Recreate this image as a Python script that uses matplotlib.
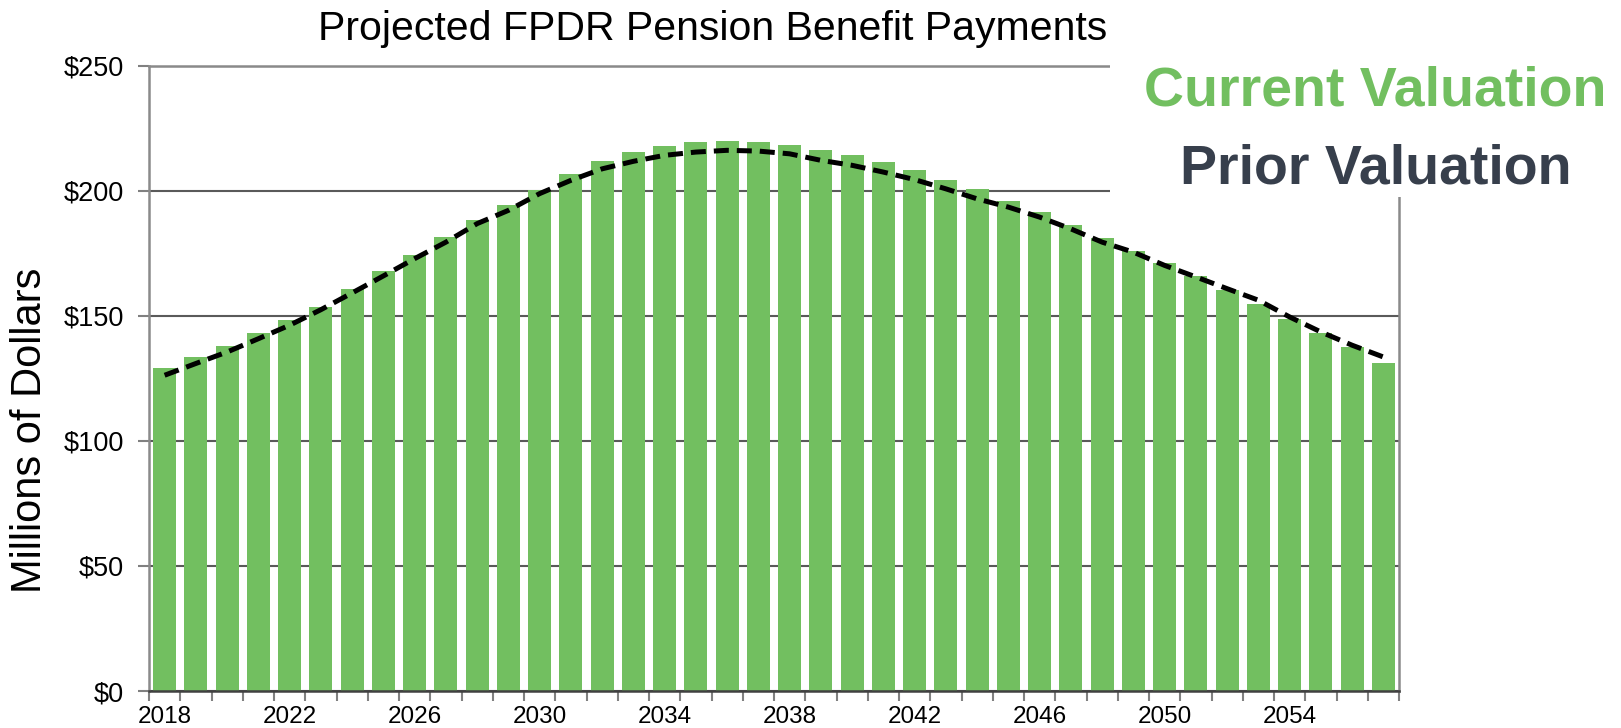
import matplotlib
matplotlib.use("Agg")
import matplotlib.pyplot as plt
from matplotlib.patches import Rectangle
from matplotlib.ticker import FuncFormatter
import numpy as np

plt.rcParams['font.family'] = ['Liberation Sans', 'DejaVu Sans']

# data (millions of dollars)
years = list(range(2018, 2058))
current = [128.9, 133.5, 138.0, 143.2, 148.3, 153.5, 160.7, 167.7, 174.4, 181.6,
           188.2, 194.4, 200.4, 206.6, 211.7, 215.3, 217.8, 219.4, 219.9, 219.4,
           218.4, 216.3, 214.3, 211.3, 208.2, 204.1, 200.5, 195.9, 191.3, 186.1,
           181.2, 176.0, 170.9, 165.9, 160.1, 154.5, 148.6, 142.9, 137.3, 131.0]
prior = [126.2, 130.9, 135.5, 140.8, 146.2, 152.4, 159.1, 165.9, 172.8, 179.4,
         186.8, 192.1, 198.8, 204.1, 208.7, 211.7, 214.1, 215.4, 216.1, 215.8,
         214.7, 212.1, 210.1, 207.4, 204.4, 200.7, 196.7, 193.4, 189.4, 184.7,
         179.4, 175.4, 170.1, 165.5, 160.8, 156.2, 149.5, 143.5, 138.2, 133.5]
y_ticks = [0, 50, 100, 150, 200, 250]
label_years = list(range(2018, 2058, 4))

green = '#72BF60'
slate = '#373F4C'

fig = plt.figure(figsize=(16.21, 7.28), dpi=100)
ax = fig.add_axes([149 / 1621, 1 - 691 / 728, 1250 / 1621, 625.5 / 728])

ax.bar(years, current, width=0.73, color=green, zorder=2)
ax.plot(years, prior, color='black', lw=3.6, ls=(0, (3.0, 1.6)), zorder=3)

ax.set_xlim(years[0] - 0.5, years[-1] + 0.5)
ax.set_ylim(0, 250)

ax.set_yticks(y_ticks)
ax.yaxis.set_major_formatter(FuncFormatter(lambda v, p: f'${v:.0f}'))
ax.yaxis.grid(True, color='#5a5a5a', lw=1.5, zorder=1)
ax.tick_params(axis='y', length=8, width=1.5, color='#808080', pad=10, labelsize=19.5)

ax.set_xticks(label_years)
ax.set_xticks(np.arange(years[0] - 0.5, years[-1] + 1), minor=True)
ax.tick_params(axis='x', which='major', length=0, pad=11, labelsize=17.5)
ax.tick_params(axis='x', which='minor', length=7, width=1.5, color='#808080')

for side in ['left', 'right', 'top']:
    ax.spines[side].set_color('#8a8a8a')
    ax.spines[side].set_linewidth(1.8)
ax.spines['bottom'].set_color('#404040')
ax.spines['bottom'].set_linewidth(1.8)

fig.text(30 / 1621, 1 - 430 / 728, 'Millions of Dollars', fontsize=30,
         rotation=90, ha='center', va='center')

fig.text(713 / 1621, 1 - 40 / 728, 'Projected FPDR Pension Benefit Payments',
         fontsize=29.5, ha='center', va='baseline', color='black')

# white panel holding the legend-style labels
fig.patches.append(Rectangle((1110 / 1621, 1 - 197 / 728), 1, 197 / 728,
                             transform=fig.transFigure, facecolor='white',
                             edgecolor='none', zorder=5))
fig.text(1375 / 1621, 1 - 105 / 728, 'Current Valuation', fontsize=40,
         fontweight='bold', color=green, ha='center', va='baseline', zorder=6)
fig.text(1376 / 1621, 1 - 183 / 728, 'Prior Valuation', fontsize=40,
         fontweight='bold', color=slate, ha='center', va='baseline', zorder=6)

fig.savefig('out.png', dpi=100)
